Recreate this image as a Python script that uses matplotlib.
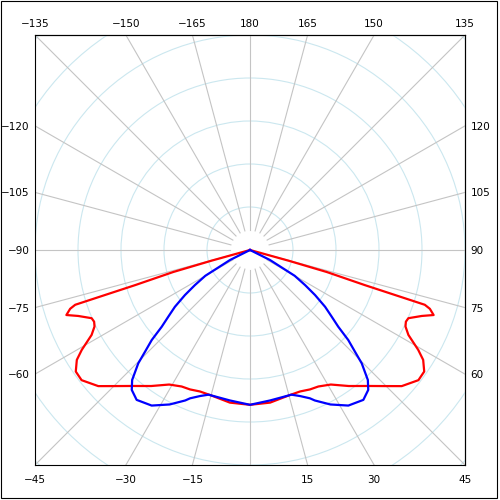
"""
Polar intensity plot, two planes (red / blue), square frame
"""
import numpy as np
import matplotlib.pyplot as plt
from matplotlib.patches import Circle, Rectangle

## data, half plane 0..90 deg, mirrored to -90..0
red_angle = [0, 7.5, 15, 19.5, 23.3, 26.6, 31, 36, 41, 44.8, 48.1, 52.3, 55.1, 57.6,
             59.3, 61.8, 63.8, 65.3, 66.7, 69, 70.5, 71.9, 72.6, 73, 74, 74.5, 90]
red_value = [360, 358, 350, 349, 353, 355, 365, 391, 419, 446, 474, 495, 494, 477,
             455, 418, 403, 399, 401, 428, 453, 440, 426, 279, 186, 93, 0]

blue_angle = [0, 7.6, 16, 18.9, 22, 23.3, 27.5, 32.3, 37.1, 40.2, 42.2, 44.6, 45.9,
              47.5, 49, 50.8, 52.9, 55.3, 57.5, 60, 63.4, 90]
blue_value = [360, 353, 350, 359, 372, 381, 405, 428, 437, 426, 408, 370, 340,
              310, 272, 245, 219, 184, 152, 120, 52, 0]

ring_values = [100, 200, 300, 400, 500, 600, 700]
spoke_angles = np.arange(-180, 180, 15)
bottom_labels = [-45, -30, -15, 15, 30, 45]
top_labels = [-135, -150, -165, 180, 165, 150, 135]
left_labels = [-120, -105, -90, -75, -60]
right_labels = [120, 105, 90, 75, 60]

r_max = 500
r_hole = 46


def to_xy(angle, value):
    t = np.radians(angle)
    return value*np.sin(t), -value*np.cos(t)


def mirror(angle, value):
    a = np.array(angle, dtype=float)
    v = np.array(value, dtype=float)
    return np.concatenate([-a[::-1], a[1:]]), np.concatenate([v[::-1], v[1:]])


def fmt(vals):
    return [str(v).replace('-', '\u2212') for v in vals]


def main():
    fig = plt.figure(figsize=(5, 5), dpi=100)
    ax = fig.add_axes([0.07, 0.07, 0.86, 0.86])
    ax.set_xlim(-r_max, r_max)
    ax.set_ylim(-r_max, r_max)

    ## grid
    for r in ring_values:
        ax.add_patch(Circle((0, 0), r, fill=False, ec='#cbe7ef', lw=0.8, zorder=1))
    for a in spoke_angles:
        x, y = to_xy(np.array([a, a]), np.array([r_hole, 900]))
        ax.plot(x, y, color='#c4c4c4', lw=0.8, zorder=1)

    ## curves
    a, v = mirror(red_angle, red_value)
    x, y = to_xy(a, v)
    ax.plot(x, y, color='#ff0000', lw=1.6, zorder=3)
    a, v = mirror(blue_angle, blue_value)
    x, y = to_xy(a, v)
    ax.plot(x, y, color='#0000ff', lw=1.6, zorder=4)

    ## edge labels
    t = np.radians(bottom_labels)
    ax.set_xticks(r_max*np.tan(t), fmt(bottom_labels))
    t = np.radians(left_labels)
    ax.set_yticks(r_max*np.cos(t)/np.sin(t), fmt(left_labels))
    top = ax.secondary_xaxis('top')
    t = np.radians(top_labels)
    top.set_xticks(-r_max*np.tan(t), fmt(top_labels))
    right = ax.secondary_yaxis('right')
    t = np.radians(right_labels)
    right.set_yticks(-r_max*np.cos(t)/np.sin(t), fmt(right_labels))

    for axis in (ax, top, right):
        axis.tick_params(length=0, labelsize=7.5, pad=4)
    ax.tick_params(axis='x', pad=7)
    for s in list(ax.spines.values()) + list(top.spines.values()) + list(right.spines.values()):
        s.set_linewidth(0.8)

    fig.patches.append(Rectangle((0.001, 0.004), 0.993, 0.995, transform=fig.transFigure,
                                 fill=False, ec='black', lw=0.8))
    fig.savefig('out.png', dpi=100)
    plt.close()


if __name__ == "__main__":
    main()
